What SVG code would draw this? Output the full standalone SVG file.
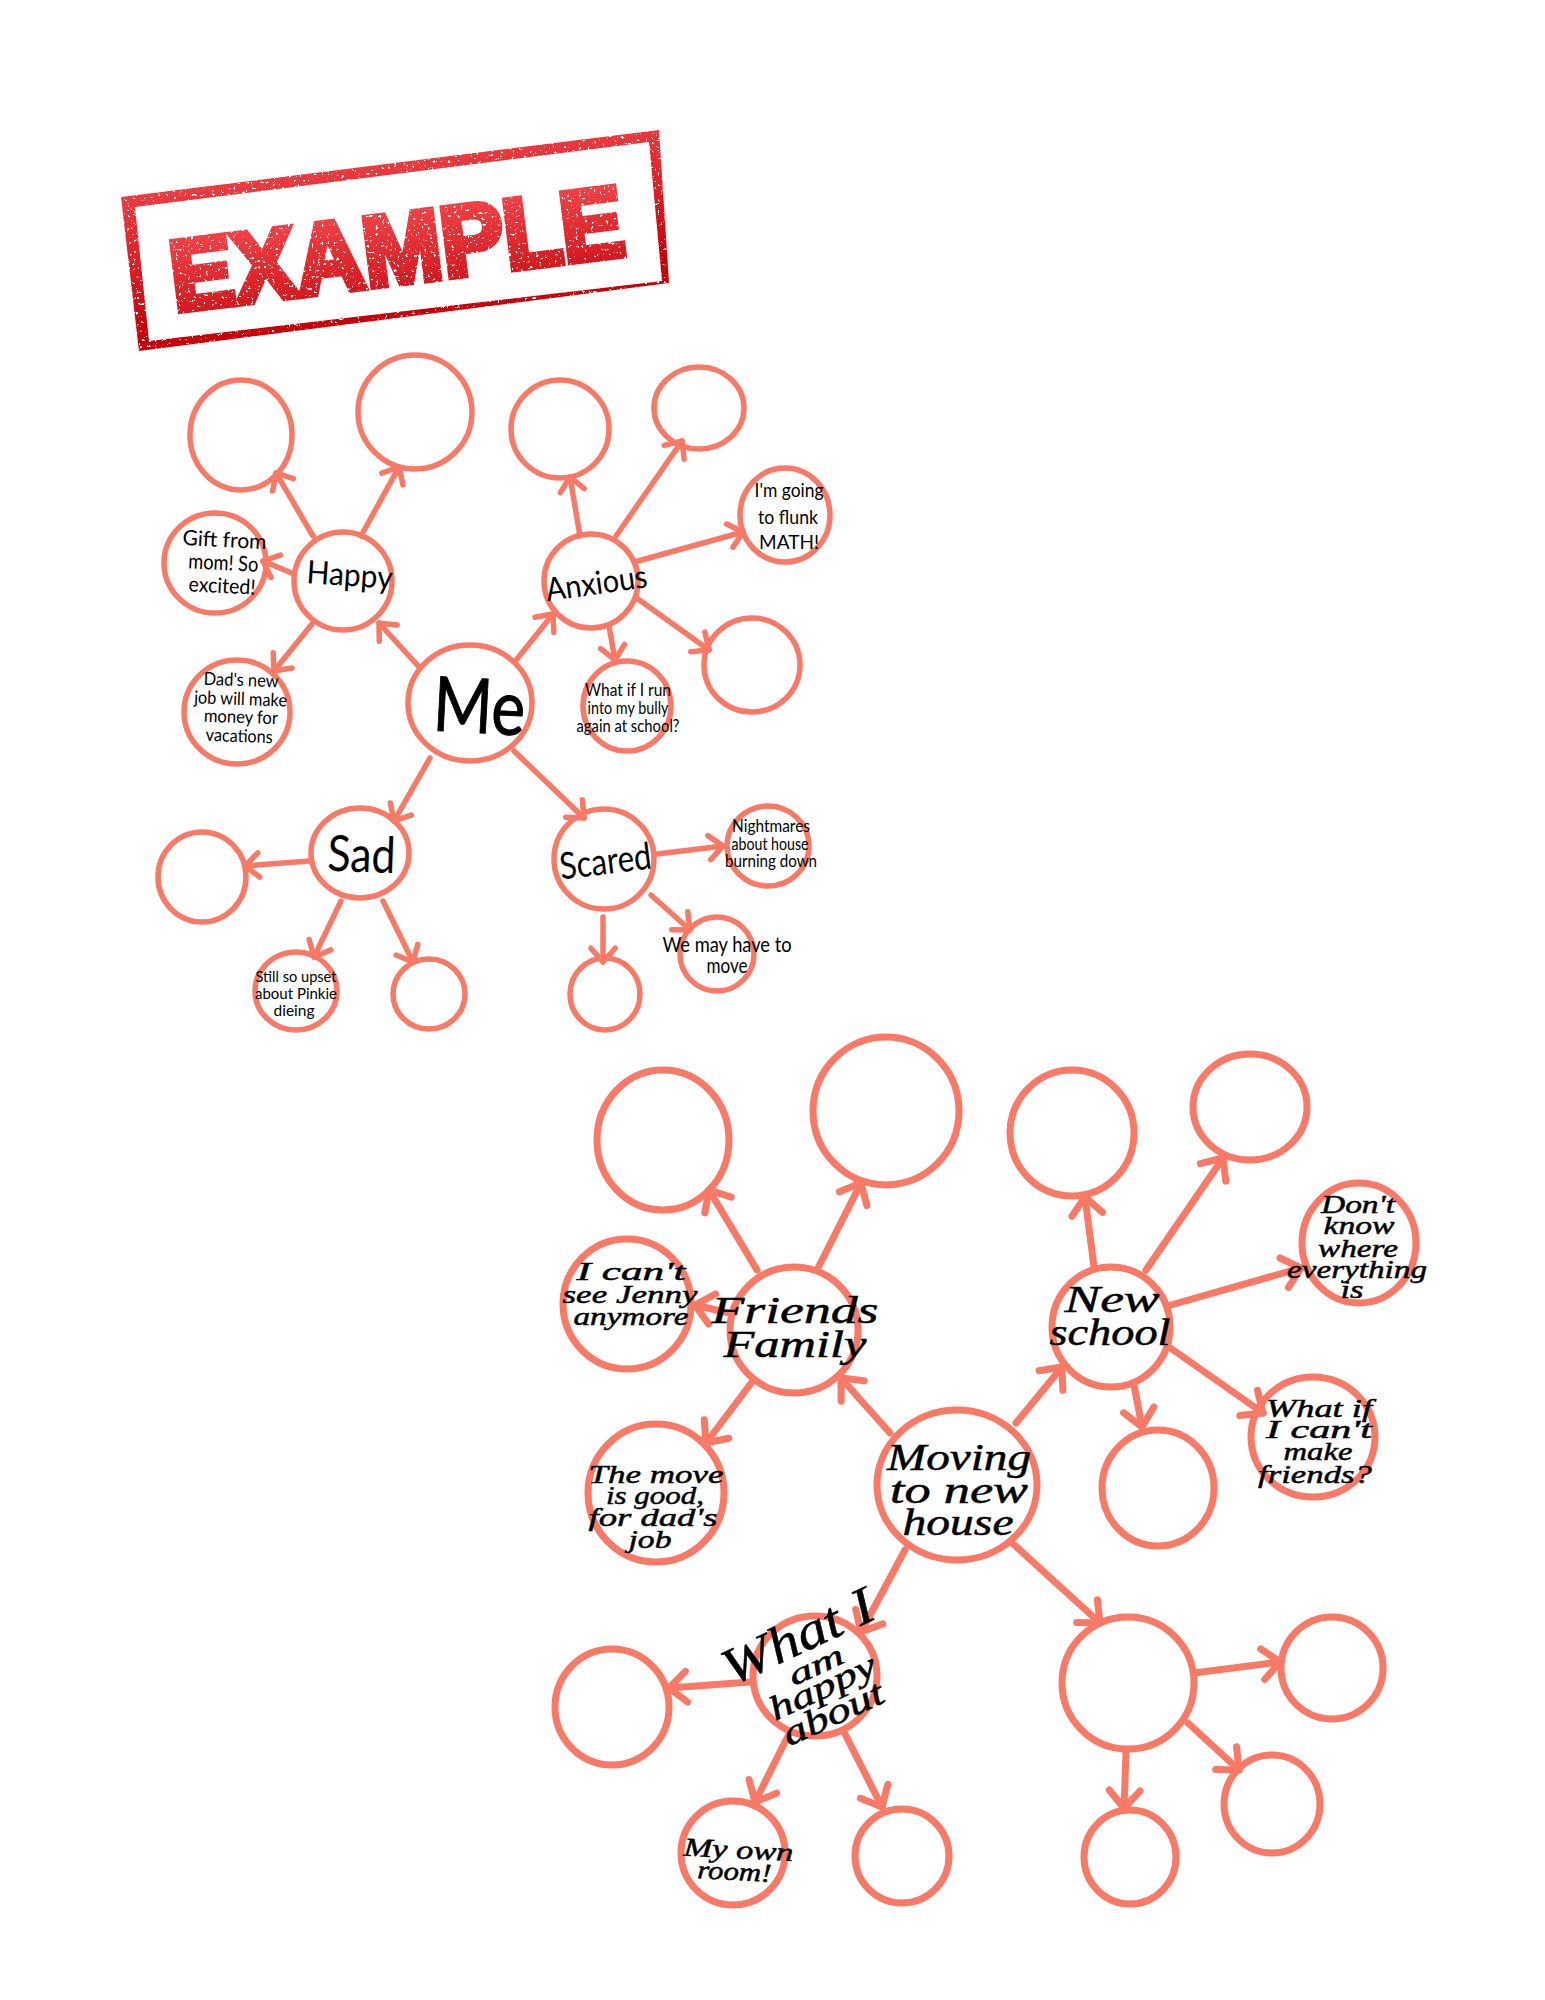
<svg xmlns="http://www.w3.org/2000/svg" width="1545" height="2000" viewBox="0 0 1545 2000">
<style>
.c{fill:none;stroke:#f97967;stroke-width:5.5}
.C{fill:none;stroke:#f97967;stroke-width:7}
.l{fill:none;stroke:#f97967;stroke-width:5.5;stroke-linecap:round;marker-end:url(#a)}
.L{fill:none;stroke:#f97967;stroke-width:7;stroke-linecap:round;marker-end:url(#a)}
.t{font-family:"Lato","Open Sans",sans-serif;fill:#000;text-anchor:middle}
.s{font-family:"Liberation Serif","DejaVu Serif",serif;font-style:italic;fill:#000;stroke:#000;stroke-width:.5;text-anchor:middle}
</style>
<defs>
<marker id="a" markerUnits="strokeWidth" viewBox="-4 -3.5 5 7" refX="0" refY="0" markerWidth="5" markerHeight="7" orient="auto">
<path d="M-2.5,-2.2L0,0L-2.5,2.2" fill="none" stroke="#f97967" stroke-width="1" stroke-linecap="round" stroke-linejoin="round"/>
</marker>
<linearGradient id="g" gradientUnits="userSpaceOnUse" x1="0" y1="140" x2="30" y2="350">
<stop offset="0" stop-color="#ff5c60"/><stop offset="1" stop-color="#c80008"/>
</linearGradient>
<linearGradient id="tg" gradientUnits="userSpaceOnUse" x1="0" y1="-80" x2="0" y2="0">
<stop offset="0" stop-color="#f4454a"/><stop offset="1" stop-color="#d41a20"/>
</linearGradient>
<filter id="rough" x="0" y="0" width="1" height="1" color-interpolation-filters="sRGB">
<feTurbulence type="fractalNoise" baseFrequency="0.33" numOctaves="2" seed="7" result="n"/>
<feColorMatrix in="n" type="matrix" values="0 0 0 0 0 0 0 0 0 0 0 0 0 0 0 0 0 0 -14 10.2" result="m"/>
<feComposite in="SourceGraphic" in2="m" operator="in"/>
</filter>
</defs>

<g id="stamp" filter="url(#rough)">
<path fill="url(#g)" fill-rule="evenodd" d="M121,197L659,130L669,283L139,351ZM135,207L649,142L662,281L149,341Z"/>
<text transform="translate(401,283) rotate(-7.1)" font-family="Liberation Sans,sans-serif" font-weight="700" font-size="100" text-anchor="middle" textLength="456" lengthAdjust="spacingAndGlyphs" fill="url(#tg)" stroke="url(#tg)" stroke-width="7" stroke-linejoin="miter">EXAMPLE</text>
</g>

<g id="connectors">
<path class="l" d="M420,668L379,623"/><path class="l" d="M517,659L553,614"/><path class="l" d="M430,758L394,821"/><path class="l" d="M514,751L584,818"/>
<path class="l" d="M313,536L276,473"/><path class="l" d="M361,536L399,467"/><path class="l" d="M294,574L263,561"/><path class="l" d="M312,624L274,671"/>
<path class="l" d="M580,536L570,477"/><path class="l" d="M616,536L682,441"/><path class="l" d="M638,561L743,532"/><path class="l" d="M638,599L709,650"/><path class="l" d="M609,626L615,660"/>
<path class="l" d="M309,861L245,866"/><path class="l" d="M341,901L314,957"/><path class="l" d="M383,901L413,962"/>
<path class="l" d="M657,854L723,846"/><path class="l" d="M651,895L690,930"/><path class="l" d="M603,917L603,962"/>
<path class="L" d="M890,1433L841,1378"/><path class="L" d="M1016,1423L1062,1367"/><path class="L" d="M905,1550L861,1632"/><path class="L" d="M1011,1542L1100,1623"/>
<path class="L" d="M757,1270L709,1190"/><path class="L" d="M818,1268L861,1183"/><path class="L" d="M729,1313L695,1305"/><path class="L" d="M752,1382L706,1443"/>
<path class="L" d="M1094,1267L1085,1197"/><path class="L" d="M1146,1270L1223,1158"/><path class="L" d="M1171,1305L1301,1268"/><path class="L" d="M1169,1347L1263,1413"/><path class="L" d="M1134,1385L1142,1427"/>
<path class="L" d="M750,1682L669,1688"/><path class="L" d="M790,1732L755,1802"/><path class="L" d="M844,1732L882,1807"/>
<path class="L" d="M1194,1673L1280,1662"/><path class="L" d="M1188,1723L1239,1770"/><path class="L" d="M1126,1752L1124,1808"/>
</g>

<g id="n-me"><ellipse class="c" cx="470" cy="703" rx="62" ry="58"/><text class="t" transform="translate(478,733) rotate(3)" font-size="76" stroke="#000" stroke-width="1" textLength="92" lengthAdjust="spacingAndGlyphs">Me</text></g>
<g id="n-happy"><ellipse class="c" cx="343" cy="581" rx="49" ry="49"/><text class="t" transform="translate(349,586) rotate(4)" font-size="32" textLength="86" lengthAdjust="spacingAndGlyphs">Happy</text></g>
<g id="n-anxious"><ellipse class="c" cx="591" cy="581" rx="47" ry="47"/><text class="t" transform="translate(598,594) rotate(-8)" font-size="32" textLength="102" lengthAdjust="spacingAndGlyphs">Anxious</text></g>
<g id="n-sad"><ellipse class="c" cx="360" cy="853" rx="49" ry="45"/><text class="t" transform="translate(361,872) rotate(2)" font-size="50" textLength="68" lengthAdjust="spacingAndGlyphs">Sad</text></g>
<g id="n-scared"><ellipse class="c" cx="604" cy="859" rx="50" ry="50"/><text class="t" transform="translate(607,874) rotate(-7)" font-size="37" textLength="92" lengthAdjust="spacingAndGlyphs">Scared</text></g>
<g id="n-b1"><ellipse class="c" cx="241" cy="435" rx="51" ry="55"/></g>
<g id="n-b2"><ellipse class="c" cx="415" cy="412" rx="57" ry="57"/></g>
<g id="n-gift"><ellipse class="c" cx="215" cy="563" rx="51" ry="50"/>
<text class="t" transform="rotate(3 223 570)" font-size="21"><tspan x="223" y="547" textLength="84" lengthAdjust="spacingAndGlyphs">Gift from</tspan><tspan x="223" y="570" textLength="70" lengthAdjust="spacingAndGlyphs">mom! So</tspan><tspan x="223" y="593" textLength="67" lengthAdjust="spacingAndGlyphs">excited!</tspan></text></g>
<g id="n-dad"><ellipse class="c" cx="237" cy="712" rx="53" ry="52"/>
<text class="t" transform="rotate(2 240 715)" font-size="18"><tspan x="240" y="686" textLength="75" lengthAdjust="spacingAndGlyphs">Dad's new</tspan><tspan x="240" y="705" textLength="93" lengthAdjust="spacingAndGlyphs">job will make</tspan><tspan x="241" y="723" textLength="74" lengthAdjust="spacingAndGlyphs">money for</tspan><tspan x="240" y="742" textLength="67" lengthAdjust="spacingAndGlyphs">vacations</tspan></text></g>
<g id="n-b3"><ellipse class="c" cx="560" cy="429" rx="49" ry="49"/></g>
<g id="n-b4"><ellipse class="c" cx="699" cy="408" rx="45" ry="41"/></g>
<g id="n-flunk"><ellipse class="c" cx="785" cy="515" rx="45" ry="47"/>
<text class="t" font-size="20"><tspan x="789" y="497" textLength="69" lengthAdjust="spacingAndGlyphs">I'm going</tspan><tspan x="788" y="524" textLength="60" lengthAdjust="spacingAndGlyphs">to flunk</tspan><tspan x="789" y="549" textLength="60" lengthAdjust="spacingAndGlyphs">MATH!</tspan></text></g>
<g id="n-b5"><ellipse class="c" cx="752" cy="665" rx="48" ry="47"/></g>
<g id="n-whatif"><ellipse class="c" cx="627" cy="706" rx="44" ry="45"/>
<text class="t" font-size="17"><tspan x="628" y="696" textLength="86" lengthAdjust="spacingAndGlyphs">What if I run</tspan><tspan x="628" y="714" textLength="81" lengthAdjust="spacingAndGlyphs">into my bully</tspan><tspan x="628" y="732" textLength="103" lengthAdjust="spacingAndGlyphs">again at school?</tspan></text></g>
<g id="n-b6"><ellipse class="c" cx="202" cy="877" rx="44" ry="45"/></g>
<g id="n-still"><ellipse class="c" cx="296" cy="991" rx="41" ry="39"/>
<text class="t" font-size="16"><tspan x="296" y="982" textLength="81" lengthAdjust="spacingAndGlyphs">Still so upset</tspan><tspan x="296" y="999" textLength="82" lengthAdjust="spacingAndGlyphs">about Pinkie</tspan><tspan x="294" y="1016" textLength="41" lengthAdjust="spacingAndGlyphs">dieing</tspan></text></g>
<g id="n-b7"><ellipse class="c" cx="429" cy="994" rx="36" ry="35"/></g>
<g id="n-b8"><ellipse class="c" cx="605" cy="994" rx="35" ry="36"/></g>
<g id="n-move"><ellipse class="c" cx="717" cy="954" rx="37" ry="37"/>
<text class="t" font-size="21"><tspan x="727" y="952" textLength="129" lengthAdjust="spacingAndGlyphs">We may have to</tspan><tspan x="727" y="973" textLength="41" lengthAdjust="spacingAndGlyphs">move</tspan></text></g>
<g id="n-nightmares"><ellipse class="c" cx="768" cy="846" rx="41" ry="40"/>
<text class="t" font-size="17"><tspan x="771" y="832" textLength="78" lengthAdjust="spacingAndGlyphs">Nightmares</tspan><tspan x="770" y="850" textLength="77" lengthAdjust="spacingAndGlyphs">about house</tspan><tspan x="771" y="867" textLength="92" lengthAdjust="spacingAndGlyphs">burning down</tspan></text></g>

<g id="m-moving"><ellipse class="C" cx="957" cy="1485" rx="80" ry="75"/>
<text class="s" font-size="38"><tspan x="959" y="1470" textLength="144" lengthAdjust="spacingAndGlyphs">Moving</tspan><tspan x="959" y="1503" textLength="138" lengthAdjust="spacingAndGlyphs">to new</tspan><tspan x="958" y="1535" textLength="111" lengthAdjust="spacingAndGlyphs">house</tspan></text></g>
<g id="m-friends"><ellipse class="C" cx="794" cy="1330" rx="64" ry="63"/>
<text class="s" font-size="38"><tspan x="795" y="1323" textLength="167" lengthAdjust="spacingAndGlyphs">Friends</tspan><tspan x="795" y="1357" textLength="143" lengthAdjust="spacingAndGlyphs">Family</tspan></text></g>
<g id="m-new"><ellipse class="C" cx="1111" cy="1327" rx="59" ry="60"/>
<text class="s" font-size="38"><tspan x="1112" y="1312" textLength="95" lengthAdjust="spacingAndGlyphs">New</tspan><tspan x="1110" y="1345" textLength="121" lengthAdjust="spacingAndGlyphs">school</tspan></text></g>
<g id="m-what"><ellipse class="C" cx="815" cy="1676" rx="62" ry="60"/>
<text class="s" transform="translate(805,1652) rotate(-25)" font-size="52" textLength="162" lengthAdjust="spacingAndGlyphs">What I</text>
<text class="s" transform="translate(820,1674) rotate(-25)" font-size="30" textLength="58" lengthAdjust="spacingAndGlyphs">am</text>
<text class="s" transform="translate(827,1697) rotate(-25)" font-size="34" textLength="114" lengthAdjust="spacingAndGlyphs">happy</text>
<text class="s" transform="translate(838,1724) rotate(-25)" font-size="36" textLength="108" lengthAdjust="spacingAndGlyphs">about</text></g>
<g id="m-h"><ellipse class="C" cx="1128" cy="1683" rx="66" ry="66"/></g>
<g id="m-a"><ellipse class="C" cx="663" cy="1140" rx="66" ry="70"/></g>
<g id="m-b"><ellipse class="C" cx="886" cy="1111" rx="73" ry="74"/></g>
<g id="m-c"><ellipse class="C" cx="1072" cy="1133" rx="62" ry="63"/></g>
<g id="m-d"><ellipse class="C" cx="1250" cy="1107" rx="57" ry="53"/></g>
<g id="m-dont"><ellipse class="C" cx="1359" cy="1243" rx="57" ry="60"/>
<text class="s" font-size="25"><tspan x="1358" y="1213" textLength="74" lengthAdjust="spacingAndGlyphs">Don't</tspan><tspan x="1359" y="1234" textLength="71" lengthAdjust="spacingAndGlyphs">know</tspan><tspan x="1358" y="1257" textLength="80" lengthAdjust="spacingAndGlyphs">where</tspan><tspan x="1357" y="1278" textLength="140" lengthAdjust="spacingAndGlyphs">everything</tspan><tspan x="1352" y="1298" textLength="23" lengthAdjust="spacingAndGlyphs">is</tspan></text></g>
<g id="m-cant"><ellipse class="C" cx="627" cy="1304" rx="64" ry="65"/>
<text class="s" font-size="26"><tspan x="631" y="1280" textLength="109" lengthAdjust="spacingAndGlyphs">I can't</tspan><tspan x="630" y="1303" textLength="135" lengthAdjust="spacingAndGlyphs">see Jenny</tspan><tspan x="631" y="1325" textLength="115" lengthAdjust="spacingAndGlyphs">anymore</tspan></text></g>
<g id="m-themove"><ellipse class="C" cx="656" cy="1493" rx="68" ry="69"/>
<text class="s" font-size="26"><tspan x="656" y="1483" textLength="135" lengthAdjust="spacingAndGlyphs">The move</tspan><tspan x="655" y="1504" textLength="98" lengthAdjust="spacingAndGlyphs">is good,</tspan><tspan x="653" y="1526" textLength="129" lengthAdjust="spacingAndGlyphs">for dad's</tspan><tspan x="650" y="1548" textLength="43" lengthAdjust="spacingAndGlyphs">job</tspan></text></g>
<g id="m-e"><ellipse class="C" cx="1158" cy="1488" rx="56" ry="58"/></g>
<g id="m-whatif"><ellipse class="C" cx="1313" cy="1437" rx="62" ry="60"/>
<text class="s" font-size="26"><tspan x="1319" y="1417" textLength="106" lengthAdjust="spacingAndGlyphs">What if</tspan><tspan x="1319" y="1438" textLength="106" lengthAdjust="spacingAndGlyphs">I can't</tspan><tspan x="1318" y="1460" textLength="69" lengthAdjust="spacingAndGlyphs">make</tspan><tspan x="1315" y="1483" textLength="114" lengthAdjust="spacingAndGlyphs">friends?</tspan></text></g>
<g id="m-f"><ellipse class="C" cx="612" cy="1707" rx="57" ry="58"/></g>
<g id="m-room"><ellipse class="C" cx="733" cy="1853" rx="52" ry="52"/>
<text class="s" font-size="26" transform="rotate(3 733 1860)"><tspan x="738" y="1858" textLength="110" lengthAdjust="spacingAndGlyphs">My own</tspan><tspan x="735" y="1880" textLength="74" lengthAdjust="spacingAndGlyphs">room!</tspan></text></g>
<g id="m-g"><ellipse class="C" cx="902" cy="1856" rx="47" ry="47"/></g>
<g id="m-i"><ellipse class="C" cx="1332" cy="1668" rx="51" ry="51"/></g>
<g id="m-j"><ellipse class="C" cx="1272" cy="1804" rx="48" ry="49"/></g>
<g id="m-k"><ellipse class="C" cx="1130" cy="1857" rx="46" ry="47"/></g>
</svg>
